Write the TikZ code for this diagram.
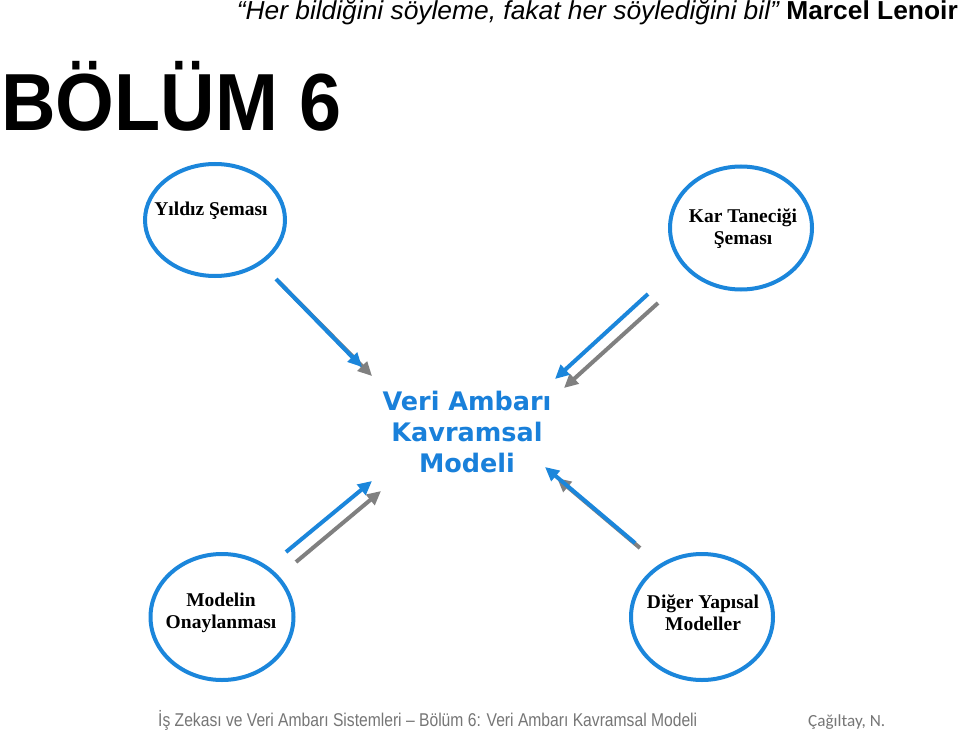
\documentclass[tikz,border=0pt]{standalone}
\usepackage{fontspec}
\usepackage{graphicx}
\usetikzlibrary{shapes.geometric,arrows.meta}
\setmainfont{Liberation Serif}
\newfontfamily\arialf{Liberation Sans}
\newfontfamily\dejaf{DejaVu Sans}
\newfontfamily\carlf{Carlito}
\definecolor{circblue}{RGB}{27,134,219}
\definecolor{textblue}{RGB}{25,128,218}
\definecolor{arrgray}{RGB}{128,128,128}
\definecolor{footgray}{RGB}{118,118,118}
\tikzset{
  ring/.style={draw=circblue, line width=4pt, ellipse, inner sep=0pt},
  ringlabel/.style={font=\fontsize{19.5}{22}\selectfont\bfseries, align=center, inner sep=0pt},
  bluearr/.style={draw=circblue, line width=4pt, -{Triangle[length=14pt,width=13pt]}},
  grayarr/.style={draw=arrgray, line width=4pt, -{Triangle[length=14pt,width=13pt]}},
}
\begin{document}
\begin{tikzpicture}[x=1pt,y=-1pt]
\useasboundingbox (0,0) rectangle (960,730);
\fill[white] (0,0) rectangle (960,730);

% header
\node[anchor=base east, inner sep=0pt] (quote) at (958,20)
  {\resizebox{721pt}{\height}{\arialf\fontsize{26}{26}\selectfont\itshape “Her bildiğini söyleme, fakat her söylediğini bil” \upshape\bfseries Marcel Lenoir}};
\node[anchor=base west, inner sep=0pt] (title) at (1,131)
  {\resizebox{340pt}{\height}{\arialf\bfseries\fontsize{81}{81}\selectfont BÖLÜM 6}};

% circles
\node[ring, minimum width=140pt, minimum height=112pt] (c1) at (215,220) {};
\node[ring, minimum width=142pt, minimum height=123pt] (c2) at (741,228) {};
\node[ring, minimum width=143pt, minimum height=126pt] (c3) at (222,617) {};
\node[ring, minimum width=142pt, minimum height=126pt] (c4) at (702,617) {};

\node[ringlabel] (l1) at (211,211) {Yıldız Şeması};
\node[ringlabel] (l2) at (743,229) {Kar Taneciği\\Şeması};
\node[ringlabel] (l3) at (221,613) {Modelin\\Onaylanması};
\node[ringlabel] (l4) at (703,613) {Diğer Yapısal\\Modeller};

% center
\node[font=\dejaf\bfseries\fontsize{25.5}{31}\selectfont, text=textblue, align=center, inner sep=0pt] (center) at (467,432)
  {Veri Ambarı\\Kavramsal\\Modeli};

% arrow end points
\coordinate (a1b) at (276,279); \coordinate (a1bt) at (362,367);
\coordinate (a1g) at (279,282); \coordinate (a1gt) at (372,376);
\coordinate (a2b) at (648,294); \coordinate (a2bt) at (555,379);
\coordinate (a2g) at (658,303); \coordinate (a2gt) at (564,388);
\coordinate (a3b) at (286,552); \coordinate (a3bt) at (372,481);
\coordinate (a3g) at (296,562); \coordinate (a3gt) at (381,491);
\coordinate (a4b) at (635,543); \coordinate (a4bt) at (545,467);
\coordinate (a4g) at (640,548); \coordinate (a4gt) at (557,478);

\draw[grayarr] (a1g) -- (a1gt);
\draw[bluearr] (a1b) -- (a1bt);
\draw[grayarr] (a2g) -- (a2gt);
\draw[bluearr] (a2b) -- (a2bt);
\draw[grayarr] (a3g) -- (a3gt);
\draw[bluearr] (a3b) -- (a3bt);
\draw[grayarr] (a4g) -- (a4gt);
\draw[bluearr] (a4b) -- (a4bt);

% footer
\node[anchor=base west, inner sep=0pt, text=footgray] (foot) at (158,726)
  {\resizebox{539pt}{\height}{\arialf\fontsize{18.5}{18.5}\selectfont İş Zekası ve Veri Ambarı Sistemleri – Bölüm 6: Veri Ambarı Kavramsal Modeli}};
\node[anchor=base west, inner sep=0pt, text=footgray] (author) at (808,726)
  {\resizebox{77pt}{\height}{\carlf\fontsize{17}{17}\selectfont Çağıltay, N.}};
\end{tikzpicture}
\end{document}
